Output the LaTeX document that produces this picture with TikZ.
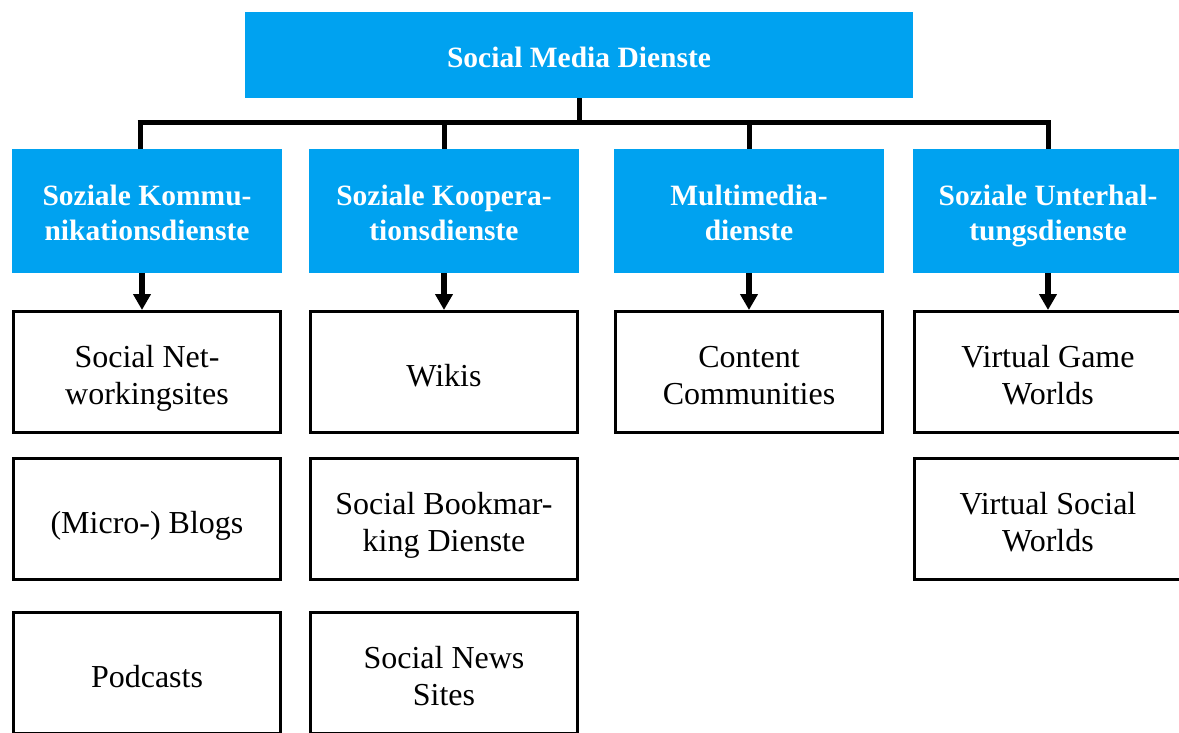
\documentclass[tikz,border=0pt]{standalone}
\usepackage{fontspec}
\setmainfont{Liberation Serif}
\usetikzlibrary{arrows.meta}
\definecolor{smblue}{RGB}{0,162,240}
% centred text blocks; the zero-width rule sets the first line's height
\newcommand\headcell[1]{\begin{tabular}{@{}c@{}}\rule{0pt}{34.6pt}#1\end{tabular}}
\newcommand\itemcell[1]{\begin{tabular}{@{}c@{}}\rule{0pt}{39.5pt}#1\end{tabular}}
\begin{document}
\begin{tikzpicture}[x=1pt,y=-1pt,
  bluebox/.style={fill=smblue,draw=none,text=white,
    font=\fontsize{29.5}{34.5}\selectfont\bfseries,inner sep=0pt},
  rootbox/.style={bluebox,minimum width=668pt,minimum height=86pt},
  catbox/.style={bluebox,minimum width=270pt,minimum height=124pt},
  itembox/.style={draw=black,line width=3pt,fill=white,
    minimum width=267pt,minimum height=121pt,inner sep=0pt,
    font=\fontsize{32}{37}\selectfont},
  bus/.style={line width=5pt,line cap=butt},
  down/.style={line width=5.5pt,-{Triangle[width=17pt,length=16pt]}}]
\useasboundingbox (0,0) rectangle (1179,733);

% root
\node[rootbox] (root) at (579,55) {\headcell{Social Media Dienste}};

% categories
\node[catbox] (k1) at (147,211) {\headcell{Soziale Kommu-\\nikationsdienste}};
\node[catbox] (k2) at (444,211) {\headcell{Soziale Koopera-\\tionsdienste}};
\node[catbox] (k3) at (749,211) {\headcell{Multimedia-\\dienste}};
\node[catbox] (k4) at (1048,211) {\headcell{Soziale Unterhal-\\tungsdienste}};

% items
\node[itembox] (a1) at (147,372) {\itemcell{Social Net-\\workingsites}};
\node[itembox] (a2) at (147,519) {\itemcell{(Micro-) Blogs}};
\node[itembox] (a3) at (147,673) {\itemcell{Podcasts}};
\node[itembox] (b1) at (444,372) {\itemcell{Wikis}};
\node[itembox] (b2) at (444,519) {\itemcell{Social Bookmar-\\king Dienste}};
\node[itembox] (b3) at (444,673) {\itemcell{Social News\\Sites}};
\node[itembox] (c1) at (749,372) {\itemcell{Content\\Communities}};
\node[itembox] (d1) at (1048,372) {\itemcell{Virtual Game\\Worlds}};
\node[itembox] (d2) at (1048,519) {\itemcell{Virtual Social\\Worlds}};

% tree connectors
\coordinate (busy) at (0,123);
\coordinate (k1top) at ([xshift=-7pt]k1.north);
\draw[bus] (root.south) -- (root.south |- busy);
\draw[bus] ([xshift=-2.5pt]k1top |- busy) -- ([xshift=2.5pt]k4.north |- busy);
\draw[bus] (k1top |- busy) -- (k1top);
\foreach \k in {k2,k3,k4}
  \draw[bus] (\k.north |- busy) -- (\k.north);

% arrows to first items
\draw[down] ([xshift=-5pt]k1.south) -- ([xshift=-5pt]a1.north);
\draw[down] (k2.south) -- (b1.north);
\draw[down] (k3.south) -- (c1.north);
\draw[down] (k4.south) -- (d1.north);
\end{tikzpicture}
\end{document}
